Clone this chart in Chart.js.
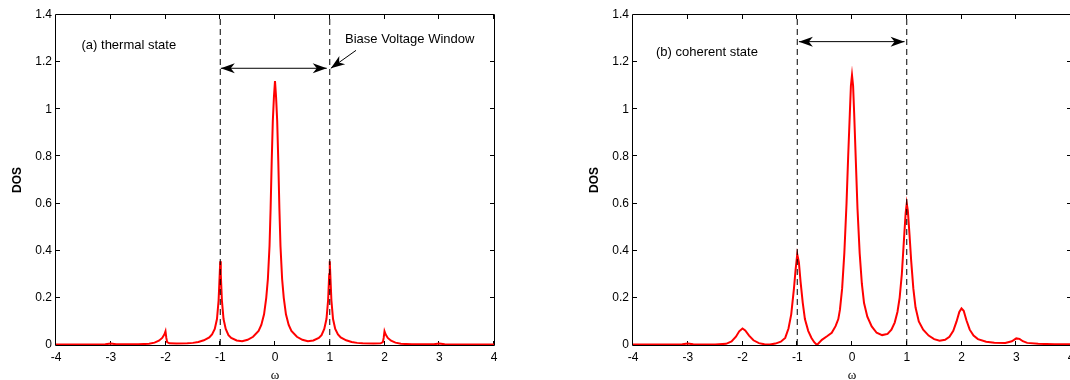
<!DOCTYPE html>
<html>
<head>
<meta charset="utf-8">
<script src="https://cdn.jsdelivr.net/npm/chart.js@4.4.0/dist/chart.umd.min.js"></script>
<style>
    html, body { margin: 0; padding: 0; width: 1070px; height: 380px; overflow: hidden; background: #fff; }
    canvas { position: absolute; top: 0; }
    #chartThermal  { left: 0; }
    #chartCoherent { left: 540px; }
</style>
</head>
<body>
<canvas id="chartThermal" width="540" height="392"></canvas>
<canvas id="chartCoherent" width="531" height="392"></canvas>
<script>
'use strict';

// ─── Datos ────────────────────────────────────────────────────────────────────
const X_TICKS = [-4, -3, -2, -1, 0, 1, 2, 3, 4];
const Y_TICKS = [0, 0.2, 0.4, 0.6, 0.8, 1, 1.2, 1.4];
const BIAS_EDGES = [-1, 1];

// (a) thermal state
const OMEGA_A = [
    -4, -3.5, -3.1, -3.0, -2.9, -2.5, -2.3, -2.2, -2.12, -2.06,
    -2.02, -2.0, -1.985, -1.97, -1.93, -1.8, -1.6, -1.5, -1.4, -1.3,
    -1.2, -1.15, -1.1, -1.06, -1.03, -1.01, -1.0, -0.99, -0.97, -0.94,
    -0.9, -0.85, -0.8, -0.7, -0.6, -0.5, -0.4, -0.3, -0.25, -0.2,
    -0.16, -0.13, -0.1, -0.08, -0.06, -0.04, -0.02, 0, 0.02, 0.04,
    0.06, 0.08, 0.1, 0.13, 0.16, 0.2, 0.25, 0.3, 0.4, 0.5,
    0.6, 0.7, 0.8, 0.85, 0.9, 0.94, 0.97, 0.99, 1.0, 1.01,
    1.03, 1.06, 1.1, 1.15, 1.2, 1.3, 1.4, 1.5, 1.6, 1.8,
    1.93, 1.97, 1.985, 2.0, 2.02, 2.06, 2.12, 2.2, 2.3, 2.5,
    2.9, 3.0, 3.1, 3.5, 4
];
const DOS_A = [
    0.002, 0.002, 0.003, 0.006, 0.003, 0.003, 0.005, 0.01, 0.018, 0.03,
    0.045, 0.058, 0.03, 0.012, 0.007, 0.006, 0.007, 0.009, 0.013, 0.02,
    0.032, 0.045, 0.068, 0.11, 0.19, 0.3, 0.355, 0.3, 0.19, 0.11,
    0.068, 0.042, 0.03, 0.019, 0.016, 0.022, 0.035, 0.06, 0.085, 0.13,
    0.2, 0.28, 0.42, 0.58, 0.78, 0.95, 1.05, 1.12, 1.05, 0.95,
    0.78, 0.58, 0.42, 0.28, 0.2, 0.13, 0.085, 0.06, 0.035, 0.022,
    0.016, 0.019, 0.03, 0.042, 0.068, 0.11, 0.19, 0.3, 0.355, 0.3,
    0.19, 0.11, 0.068, 0.045, 0.032, 0.02, 0.013, 0.009, 0.007, 0.006,
    0.007, 0.012, 0.03, 0.058, 0.045, 0.03, 0.018, 0.01, 0.005, 0.003,
    0.003, 0.006, 0.003, 0.002, 0.002
];

// (b) coherent state
const OMEGA_B = [
    -4, -3.5, -3.1, -3.0, -2.9, -2.5, -2.3, -2.2, -2.12, -2.06,
    -2.0, -1.95, -1.88, -1.8, -1.7, -1.6, -1.5, -1.4, -1.3, -1.22,
    -1.16, -1.11, -1.06, -1.03, -1.0, -0.97, -0.94, -0.9, -0.86, -0.8,
    -0.74, -0.69, -0.64, -0.55, -0.45, -0.37, -0.3, -0.25, -0.22, -0.18,
    -0.14, -0.1, -0.07, -0.04, -0.02, 0, 0.02, 0.04, 0.07, 0.1,
    0.14, 0.18, 0.22, 0.28, 0.36, 0.45, 0.55, 0.65, 0.72, 0.78,
    0.83, 0.87, 0.91, 0.95, 0.98, 1.0, 1.02, 1.05, 1.08, 1.12,
    1.16, 1.22, 1.3, 1.4, 1.5, 1.6, 1.7, 1.78, 1.85, 1.91,
    1.96, 2.0, 2.04, 2.09, 2.15, 2.22, 2.3, 2.45, 2.6, 2.8,
    2.92, 3.0, 3.06, 3.12, 3.2, 3.4, 3.7, 4
];
const DOS_B = [
    0.002, 0.002, 0.003, 0.006, 0.003, 0.002, 0.005, 0.015, 0.035, 0.058,
    0.07, 0.062, 0.04, 0.02, 0.008, 0.003, 0.002, 0.006, 0.014, 0.03,
    0.07, 0.13, 0.24, 0.32, 0.385, 0.35, 0.27, 0.18, 0.11, 0.06,
    0.03, 0.012, 0.0, 0.022, 0.038, 0.052, 0.08, 0.11, 0.15, 0.24,
    0.39, 0.6, 0.8, 0.98, 1.1, 1.145, 1.1, 0.98, 0.78, 0.58,
    0.39, 0.26, 0.178, 0.12, 0.079, 0.052, 0.042, 0.047, 0.065, 0.095,
    0.14, 0.2, 0.3, 0.45, 0.56, 0.6, 0.57, 0.47, 0.36, 0.24,
    0.16, 0.1, 0.065, 0.04, 0.025, 0.018, 0.022, 0.035, 0.06, 0.1,
    0.14, 0.155, 0.145, 0.105, 0.065, 0.04, 0.025, 0.014, 0.01, 0.009,
    0.016, 0.028, 0.026, 0.016, 0.009, 0.005, 0.003, 0.003
];

// ─── Utils ────────────────────────────────────────────────────────────────────
const SANS  = '"Liberation Sans", Arial, sans-serif';
const SERIF = '"Liberation Serif", "Times New Roman", serif';

function toPoints(xs, ys) {
    return xs.map(function (x, i) { return { x: x, y: ys[i] }; });
}

function vline(x) {
    return [{ x: x, y: Y_TICKS[0] }, { x: x, y: Y_TICKS[Y_TICKS.length - 1] }];
}

function arrowHead(ctx, tx, ty, ang) {
    const L = 14, W = 5, N = 10;
    const c = Math.cos(ang), s = Math.sin(ang);
    ctx.beginPath();
    ctx.moveTo(tx, ty);
    ctx.lineTo(tx - L * c + W * s, ty - L * s - W * c);
    ctx.lineTo(tx - N * c, ty - N * s);
    ctx.lineTo(tx - L * c - W * s, ty - L * s + W * c);
    ctx.closePath();
    ctx.fill();
}

// ─── Plugin: caja estilo MATLAB + anotaciones ─────────────────────────────────
const boxPlugin = {
    id: 'boxMarks',
    beforeDatasetsDraw(chart) {
        const { ctx, chartArea: a, scales: { x, y } } = chart;
        const T = 4;
        ctx.save();
        ctx.strokeStyle = '#000';
        ctx.lineWidth = 1;
        ctx.beginPath();
        ctx.rect(a.left - 0.5, a.top - 0.5, a.right - a.left + 1, a.bottom - a.top + 1);
        X_TICKS.forEach(function (v) {
            const px = Math.round(x.getPixelForValue(v)) - 0.5;
            ctx.moveTo(px, a.bottom); ctx.lineTo(px, a.bottom - T);
            ctx.moveTo(px, a.top);    ctx.lineTo(px, a.top + T);
        });
        Y_TICKS.forEach(function (v) {
            const py = Math.round(y.getPixelForValue(v)) - 0.5;
            ctx.moveTo(a.left, py);  ctx.lineTo(a.left + T, py);
            ctx.moveTo(a.right, py); ctx.lineTo(a.right - T, py);
        });
        ctx.stroke();
        ctx.restore();
    },
    afterDatasetsDraw(chart, args, opts) {
        const { ctx, scales: { x, y } } = chart;
        ctx.save();
        ctx.fillStyle = '#000';
        ctx.strokeStyle = '#000';
        ctx.font = '13px ' + SANS;
        ctx.textBaseline = 'middle';
        ctx.textAlign = 'left';
        (opts.notes || []).forEach(function (n) {
            ctx.fillText(n.text, x.getPixelForValue(n.x), y.getPixelForValue(n.y));
        });
        ctx.lineWidth = 1;
        (opts.arrows || []).forEach(function (ar) {
            const x1 = x.getPixelForValue(ar.x1), y1 = y.getPixelForValue(ar.y1);
            const x2 = x.getPixelForValue(ar.x2), y2 = y.getPixelForValue(ar.y2);
            const ang = Math.atan2(y2 - y1, x2 - x1);
            ctx.beginPath();
            ctx.moveTo(x1, y1);
            ctx.lineTo(x2, y2);
            ctx.stroke();
            arrowHead(ctx, x2, y2, ang);
            if (ar.both) arrowHead(ctx, x1, y1, ang + Math.PI);
        });
        ctx.restore();
    },
};

// ─── Construcción de cada panel ───────────────────────────────────────────────
function crearPanel(canvasId, xs, ys, axisWidth, rightPad, marks) {
    const ctx = document.getElementById(canvasId).getContext('2d');
    const canvasH = 392;
    return new Chart(ctx, {
        type: 'line',
        data: {
            datasets: [
                {
                    data: vline(BIAS_EDGES[0]),
                    borderColor: '#000', borderWidth: 1, borderDash: [6, 4],
                    pointRadius: 0, order: 0,
                },
                {
                    data: vline(BIAS_EDGES[1]),
                    borderColor: '#000', borderWidth: 1, borderDash: [6, 4],
                    pointRadius: 0, order: 0,
                },
                {
                    data: toPoints(xs, ys),
                    borderColor: '#ff0000', borderWidth: 2,
                    pointRadius: 0, tension: 0, order: 1,
                },
            ],
        },
        options: {
            responsive: false,
            animation: false,
            devicePixelRatio: 1,
            layout: { padding: { top: 15, right: rightPad, left: 0, bottom: 0 } },
            plugins: {
                legend: { display: false },
                tooltip: { enabled: false },
                boxMarks: marks,
            },
            scales: {
                x: {
                    type: 'linear',
                    min: X_TICKS[0],
                    max: X_TICKS[X_TICKS.length - 1],
                    afterBuildTicks: function (s) { s.ticks = X_TICKS.map(function (v) { return { value: v }; }); },
                    afterFit: function (s) { s.height = canvasH - 345; s.paddingLeft = 0; s.paddingRight = 0; },
                    grid: { display: false, drawTicks: false },
                    border: { display: false },
                    ticks: {
                        color: '#000', padding: 5, maxRotation: 0, autoSkip: false,
                        font: { family: SANS, size: 12 },
                        callback: function (v) { return String(v); },
                    },
                    title: {
                        display: true, text: 'ω', color: '#000',
                        font: { family: SERIF, size: 13 },
                        padding: { top: 0, bottom: 8.2 },
                    },
                },
                y: {
                    min: Y_TICKS[0],
                    max: Y_TICKS[Y_TICKS.length - 1],
                    afterBuildTicks: function (s) { s.ticks = Y_TICKS.map(function (v) { return { value: v }; }); },
                    afterFit: function (s) { s.width = axisWidth; s.paddingTop = 0; s.paddingBottom = 0; },
                    grid: { display: false, drawTicks: false },
                    border: { display: false },
                    ticks: {
                        color: '#000', padding: 4, autoSkip: false,
                        font: { family: SANS, size: 12 },
                        callback: function (v) { return String(v); },
                    },
                    title: {
                        display: true, text: 'DOS', color: '#000',
                        font: { family: SANS, size: 12, weight: 'bold' },
                        padding: { top: axisWidth - 45.2, bottom: 0 },
                    },
                },
            },
        },
        plugins: [boxPlugin],
    });
}

// ─── Document ready ───────────────────────────────────────────────────────────
crearPanel('chartThermal', OMEGA_A, DOS_A, 56, 46, {
    notes: [
        { text: '(a) thermal state', x: -3.534, y: 1.269 },
        { text: 'Biase Voltage Window', x: 1.279, y: 1.297 },
    ],
    arrows: [
        { x1: -0.99, y1: 1.174, x2: 0.945, y2: 1.174, both: true },
        { x1: 1.48, y1: 1.25, x2: 1.02, y2: 1.174 },
    ],
});

crearPanel('chartCoherent', OMEGA_B, DOS_B, 93, 0, {
    notes: [
        { text: '(b) coherent state', x: -3.58, y: 1.243 },
    ],
    arrows: [
        { x1: -0.97, y1: 1.287, x2: 0.96, y2: 1.287, both: true },
    ],
});
</script>
</body>
</html>
